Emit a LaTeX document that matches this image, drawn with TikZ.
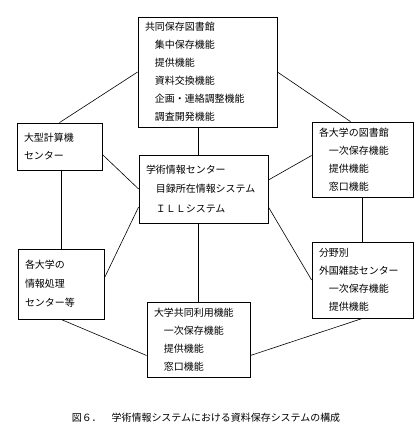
\documentclass[tikz,border=0pt]{standalone}
\usepackage{fontspec}
\newfontfamily\jpfont{Noto Sans CJK JP}
\usepackage{tikz}
\usetikzlibrary{positioning,calc}
\tikzset{
  box/.style={rectangle, draw, line width=0.8bp, align=left, inner xsep=7bp,
              inner ysep=0pt, font=\jpfont\fontsize{10}{18}\selectfont},
  link/.style={line width=0.6bp},
  caption/.style={font=\jpfont\fontsize{10}{12}\selectfont},
}

\begin{document}
\begin{tikzpicture}[x=1bp,y=-1bp]
  \useasboundingbox (0,0) rectangle (415,448);
  \node[box, text width=125bp, minimum height=110bp] (kyodo) at (207.5,72)
    {共同保存図書館\\　集中保存機能\\　提供機能\\　資料交換機能\\　企画・連絡調整機能\\　調査開発機能};
  \node[box, text width=71bp, minimum height=47bp] (keisan) at (59.5,146.5)
    {大型計算機\\センター};
  \node[box, text width=115bp, minimum height=68bp,
        font=\jpfont\fontsize{10}{19.5}\selectfont] (gakujutsu) at (203.5,189)
    {学術情報センター\\　目録所在情報システム\\　ＩＬＬシステム};
  \node[box, text width=87bp, minimum height=75bp] (tosho) at (362.5,159.5)
    {各大学の図書館\\　一次保存機能\\　提供機能\\　窓口機能};
  \node[box, text width=72bp, minimum height=70bp, font=\jpfont\fontsize{10}{19}\selectfont] (shori) at (61,284)
    {各大学の\\情報処理\\センター等};
  \node[box, text width=87bp, minimum height=76bp] (gaikoku) at (362.5,280)
    {分野別\\外国雑誌センター\\　一次保存機能\\　提供機能};
  \node[box, text width=89bp, minimum height=75bp] (riyou) at (198.5,339.5)
    {大学共同利用機能\\　一次保存機能\\　提供機能\\　窓口機能};
  \node[caption] (zu) at (206,418)
    {図６．　学術情報システムにおける資料保存システムの構成};

  \draw[link] (kyodo.west) -- (keisan.north);
  \draw[link] (kyodo.east) -- ([xshift=-12bp]tosho.north);
  \draw[link] (kyodo.south -| riyou.north) -- (gakujutsu.north -| riyou.north);
  \draw[link] ([yshift=-8bp]keisan.east) -- (gakujutsu.west);
  \draw[link] ([yshift=-18bp]gakujutsu.west) -- ([yshift=6bp]shori.east);
  \draw[link] ([yshift=9bp]gakujutsu.east) -- ([yshift=4bp]tosho.west);
  \draw[link] ([yshift=-18bp]gakujutsu.east) -- (gaikoku.west);
  \draw[link] (gakujutsu.south -| riyou.north) -- (riyou.north);
  \draw[link] (keisan.south -| shori.north) -- (shori.north);
  \draw[link] (tosho.south) -- (gaikoku.north);
  \draw[link] (shori.south) -- ([yshift=-16bp]riyou.west);
  \draw[link] ([yshift=-16bp]riyou.east) -- (gaikoku.south);
\end{tikzpicture}
\end{document}
